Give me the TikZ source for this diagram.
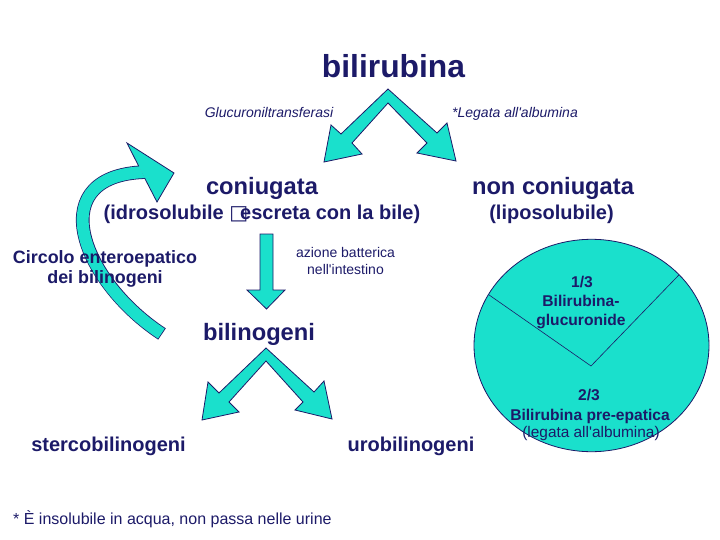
\documentclass[tikz,border=0pt]{standalone}
\usepackage{fontspec}
\usetikzlibrary{calc}
\setmainfont{Liberation Sans}
\newfontfamily\dejavu{DejaVu Sans}
\definecolor{navy}{RGB}{28,26,104}
\definecolor{turq}{RGB}{26,224,204}
\tikzset{
  blockarrow/.style={fill=turq, draw=navy, line width=0.8pt, line join=miter},
  lbl/.style={text=navy, inner sep=0pt, anchor=base},
  big/.style={lbl, font=\bfseries\fontsize{23.7}{28}\selectfont},
  mid/.style={lbl, font=\bfseries\fontsize{20}{24}\selectfont},
  note/.style={lbl, font=\itshape\fontsize{14}{17}\selectfont},
  small/.style={lbl, font=\fontsize{14}{17}\selectfont},
  inbold/.style={lbl, font=\bfseries\fontsize{15.6}{19}\selectfont},
  inreg/.style={lbl, font=\fontsize{15.4}{19}\selectfont},
}
\begin{document}
\begin{tikzpicture}[x=1pt,y=-1pt]
\useasboundingbox (0,0) rectangle (720,540);

% pie chart
\draw[fill=turq, draw=navy, line width=0.8pt] (591.5,345.5) ellipse [x radius=117.5, y radius=106.2];
\begin{scope}
  \clip (591.5,345.5) ellipse [x radius=117.5, y radius=106.2];
  \coordinate (v) at (591,366);
  \draw[navy, line width=0.6pt] ($(v)+(-148.5,-103.5)$) -- (v) -- ($(v)+(126,-130.5)$);
\end{scope}

% top chevron
\draw[blockarrow] (388,89) -- (437,133) -- (447,123) -- (456,161) -- (417,153) -- (427,143)
  -- (388,103) -- (352,143) -- (362,154) -- (324,162) -- (331,125) -- (341,134) -- cycle;
% bottom chevron
\draw[blockarrow] (266,348) -- (314,392) -- (324,381) -- (332,419) -- (295,410) -- (303,402)
  -- (266,361) -- (229,402) -- (239,412) -- (202,420) -- (208,382) -- (219,393) -- cycle;
% down arrow
\draw[blockarrow] (260,234) -- (273,234) -- (273,290) -- (285,290) -- (266.5,309) -- (247,290) -- (260,290) -- cycle;

% curved arrow
\begin{scope}
  \clip (37,-34) -- (247,379) -- (-100,379) -- (-100,-34) -- cycle;
  \draw[navy, line width=13.6pt] (162,334) .. controls (80,280) and (40,172) .. (150,172);
  \draw[turq, line width=12pt, shorten <=0.8pt] (162,334) .. controls (80,280) and (40,172) .. (150,172);
\end{scope}
\fill[turq] (127,143) -- (174,173) -- (157,202) -- cycle;
\draw[navy, line width=0.8pt, line join=miter] (138.7,166.2) -- (127,143) -- (174,173) -- (157,202) -- (144.7,178.2);

% texts
\node[lbl, font=\bfseries\fontsize{31.8}{36}\selectfont] (bili) at (393.5,78) {bilirubina};
\node[note] (glu) at (269,118) {Glucuroniltransferasi};
\node[note] (leg) at (515,118) {*Legata all\textquotesingle albumina};
\node[big] (con) at (262,195) {coniugata};
\node[big] (noncon) at (553,195) {non coniugata};
\node[mid] (idro) at (262,219) {(idrosolubile {\dejavu\bfseries □}\kern-8pt escreta con la bile)};
\node[mid] (lipo) at (551.5,219) {(liposolubile)};
\node[lbl, font=\bfseries\fontsize{17.9}{21}\selectfont] (circ1) at (105,263) {Circolo enteroepatico};
\node[lbl, font=\bfseries\fontsize{17.9}{21}\selectfont] (circ2) at (105,283) {dei bilinogeni};
\node[small] (az1) at (345.5,257) {azione batterica};
\node[small] (az2) at (345.5,274) {nell\textquotesingle intestino};
\node[big] (bilin) at (259,340) {bilinogeni};
\node[mid] (sterco) at (108.5,451) {stercobilinogeni};
\node[mid] (uro) at (411,451) {urobilinogeni};
\node[lbl, anchor=base west, font=\fontsize{16}{19}\selectfont] (foot) at (13,524) {* È insolubile in acqua, non passa nelle urine};

\node[inbold] (p1a) at (582,287) {1/3};
\node[inbold] (p1b) at (581,306.7) {Bilirubina-};
\node[inbold] (p1c) at (581,325) {glucuronide};
\node[inbold] (p2a) at (589,400) {2/3};
\node[inbold] (p2b) at (590,420) {Bilirubina pre-epatica};
\node[inreg] (p2c) at (591,437) {(legata all\textquotesingle albumina)};
\end{tikzpicture}
\end{document}
